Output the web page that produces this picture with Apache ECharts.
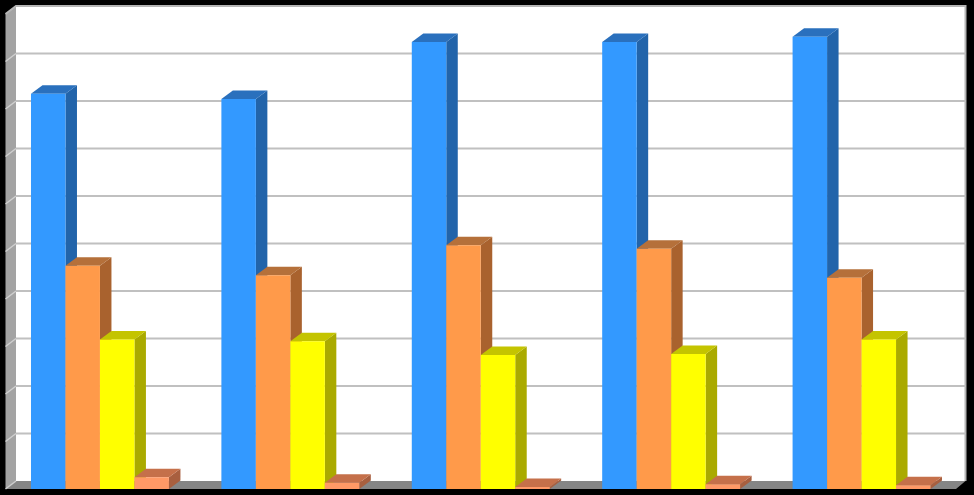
<!DOCTYPE html>
<html>
<head>
<meta charset="utf-8">
<style>html,body{margin:0;padding:0;background:#000}#c{width:974px;height:495px}</style>
<script src="https://cdn.jsdelivr.net/npm/echarts@6/dist/echarts.min.js"></script>
</head>
<body>
<div id="c"></div>
<script>
var categories = ['1', '2', '3', '4', '5'];
var blueValues = [83.2, 82.1, 94.1, 94.1, 95.2];
var orangeValues = [47.0, 45.0, 51.3, 50.6, 44.5];
var yellowValues = [31.5, 31.1, 28.2, 28.4, 31.5];
var salmonValues = [2.5, 1.3, 0.4, 1.0, 0.8];
var tickValues = [10, 20, 30, 40, 50, 60, 70, 80, 90, 100];

var DX = 11.5, DY = 8.5, WALL_DX = 10.5, WALL_DY = 8;
var palette = [
  {front: '#3399ff', side: '#2264aa', top: '#2a70bd'},
  {front: '#ff9a4a', side: '#a9622e', top: '#b5703a'},
  {front: '#ffff00', side: '#aaaa00', top: '#c4c400'},
  {front: '#ff9966', side: '#a85f3f', top: '#c5704a'}
];

function poly(points, fill) {
  return {type: 'polygon', shape: {points: points}, style: {fill: fill}};
}

function barRenderer(index) {
  var c = palette[index];
  return function (params, api) {
    var base = api.coord([api.value(0), 0]);
    var tip = api.coord([api.value(0), api.value(1)]);
    var band = api.size([1, 0])[0];
    var w = band * 0.1811;
    var x0 = base[0] - band / 2 + band * 0.1365 + index * w;
    var x1 = x0 + w;
    var y0 = base[1], y1 = tip[1];
    return {
      type: 'group',
      children: [
        poly([[x1, y1], [x1 + DX, y1 - DY], [x1 + DX, y0 - DY], [x1, y0]], c.side),
        poly([[x0, y1], [x1, y1], [x1 + DX, y1 - DY], [x0 + DX, y1 - DY]], c.top),
        poly([[x0, y1], [x1, y1], [x1, y0], [x0, y0]], c.front)
      ]
    };
  };
}

function wallRenderer(params, api) {
  var cs = params.coordSys;
  var fl = cs.x + 0.5, fr = cs.x + cs.width - 1;
  var bl = fl + WALL_DX, br = fr + WALL_DX - 1;
  var ft = cs.y, fb = cs.y + cs.height;
  var bt = ft - WALL_DY, bb = fb - WALL_DY;
  return {
    type: 'group',
    children: [
      poly([[bl, bt], [br, bt], [br, bb], [bl, bb]], '#ffffff'),
      poly([[fl, ft], [bl, bt], [bl, bb], [fl, fb]], '#a3a3a3'),
      poly([[fl, fb], [bl, bb], [br, bb], [fr, fb]], '#858585'),
      {type: 'polyline', shape: {points: [[fl, ft], [bl, bt], [br, bt], [br, bb]]},
       style: {fill: null, stroke: '#b5b5b5', lineWidth: 2}},
      {type: 'polyline', shape: {points: [[fl, fb], [bl, bb]]},
       style: {fill: null, stroke: '#cfcfcf', lineWidth: 1.5}}
    ]
  };
}

function gridRenderer(params, api) {
  var cs = params.coordSys;
  var y = api.coord([0, api.value(0)])[1];
  var fl = cs.x + 0.5, bl = fl + WALL_DX, br = cs.x + cs.width + 8.5;
  return {
    type: 'group',
    children: [
      {type: 'polyline', shape: {points: [[fl, y], [bl, y - WALL_DY]]},
       style: {fill: null, stroke: '#cfcfcf', lineWidth: 1.5}},
      {type: 'line', shape: {x1: bl, y1: y - WALL_DY, x2: br, y2: y - WALL_DY},
       style: {stroke: '#c0c0c0', lineWidth: 2}}
    ]
  };
}

function barData(values) {
  return values.map(function (v, i) { return [i, v]; });
}

function customSeries(renderItem, data, z) {
  return {
    type: 'custom', renderItem: renderItem, data: data, clip: false, silent: true,
    z: z, animation: false,
    encode: {x: 0, y: 1}
  };
}

var chart = echarts.init(document.getElementById('c'), null, {renderer: 'canvas'});
chart.setOption({
  backgroundColor: '#000000',
  animation: false,
  grid: {left: 5, right: 17, top: 14, bottom: 6},
  xAxis: {type: 'category', data: categories, show: false},
  yAxis: {type: 'value', min: 0, max: 100, interval: 10, show: false},
  series: [
    customSeries(wallRenderer, [[0, 0]], 1),
    customSeries(gridRenderer, tickValues.slice(0, -1).map(function (v) { return [v]; }), 2),
    customSeries(barRenderer(0), barData(blueValues), 3),
    customSeries(barRenderer(1), barData(orangeValues), 4),
    customSeries(barRenderer(2), barData(yellowValues), 5),
    customSeries(barRenderer(3), barData(salmonValues), 6)
  ]
});
</script>
</body>
</html>
